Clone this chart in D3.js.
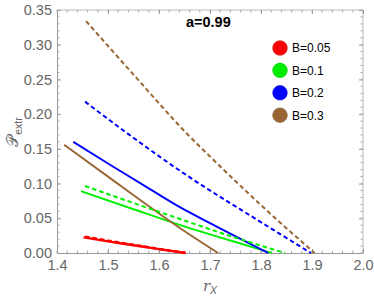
<!DOCTYPE html>
<html><head><meta charset="utf-8">
<script src="https://cdn.jsdelivr.net/npm/d3@7"></script>
<style>body{margin:0;background:#fff;} svg{display:block;font-family:"Liberation Sans",Arial,sans-serif;}</style>
</head><body><svg id="c" width="374" height="297"></svg>
<script>
const title = "a=0.99";
const legendLabels = ["B=0.05","B=0.1","B=0.2","B=0.3"];
const colors = ["#ff0000","#00f000","#0000ff","#996633"];
const xTicks = [1.4,1.5,1.6,1.7,1.8,1.9,2.0];
const yTicks = [0.00,0.05,0.10,0.15,0.20,0.25,0.30,0.35];

// solid curves [r, value]
const solidB005 = [[1.452,0.0226],[1.5,0.0168],[1.55,0.0112],[1.6,0.0056],[1.651,0.0]];
const solidB01  = [[1.447,0.089],[1.55,0.063],[1.651,0.038],[1.74,0.018],[1.821,0.0]];
const solidB02  = [[1.432,0.160],[1.5,0.129],[1.6,0.084],[1.641,0.066],[1.7,0.043],[1.814,0.0]];
const solidB03  = [[1.414,0.156],[1.5,0.110],[1.6,0.057],[1.651,0.031],[1.716,0.0]];
// dashed curves
const dashB005 = [[1.455,0.0235],[1.5,0.0178],[1.55,0.0118],[1.6,0.0060],[1.655,0.0]];
const dashB01  = [[1.455,0.0965],[1.55,0.072],[1.651,0.0465],[1.75,0.022],[1.847,0.0]];
const dashB02  = [[1.455,0.218],[1.533,0.175],[1.648,0.115],[1.792,0.048],[1.898,0.0]];
const dashB03  = [[1.457,0.334],[1.55,0.257],[1.654,0.1725],[1.7,0.139],[1.8,0.069],[1.905,0.0]];

const solids = [solidB005, solidB01, solidB02, solidB03];
const dashes = [dashB005, dashB01, dashB02, dashB03];

const svg = d3.select("#c");
const x = d3.scaleLinear().domain([1.4,2.0]).range([57,363]);
const y = d3.scaleLinear().domain([0,0.35]).range([253,10]);

// frame
const g = svg.append("g");
g.append("line").attr("x1",57).attr("x2",363).attr("y1",10).attr("y2",10).attr("stroke","#bbb");
g.append("line").attr("x1",363).attr("x2",363).attr("y1",10).attr("y2",253).attr("stroke","#bbb");

const minorX = d3.range(1.4,2.0001,0.02);
const minorY = d3.range(0,0.35001,0.01);

// bottom axis
const xb = d3.axisBottom(x).tickValues(xTicks).tickFormat(d3.format(".1f")).tickSizeInner(-4).tickSizeOuter(0).tickPadding(7);
const gx = svg.append("g").attr("transform","translate(0,253)").call(xb);
// top axis ticks
const xt = d3.axisTop(x).tickValues(xTicks).tickFormat("").tickSizeInner(-4).tickSizeOuter(0);
const gxt = svg.append("g").attr("transform","translate(0,10)").call(xt);
gxt.select(".domain").remove();
// left axis
const yl = d3.axisLeft(y).tickValues(yTicks).tickFormat(d3.format(".2f")).tickSizeInner(-4).tickSizeOuter(0).tickPadding(5);
const gy = svg.append("g").attr("transform","translate(57,0)").call(yl);
const yr = d3.axisRight(y).tickValues(yTicks).tickFormat("").tickSizeInner(-4).tickSizeOuter(0);
const gyr = svg.append("g").attr("transform","translate(363,0)").call(yr);
gyr.select(".domain").remove();

[gx,gy].forEach(a=>{a.select(".domain").attr("stroke","#999");});
[gx,gy,gxt,gyr].forEach(a=>{
  a.selectAll(".tick line").attr("stroke","#999");
  a.selectAll(".tick text").attr("fill","#666").attr("font-size","14.5px").attr("font-family","'Liberation Sans',Arial,sans-serif");
});

// minor ticks
const mg = svg.append("g").attr("stroke","#aaa");
minorX.forEach(v=>{
  mg.append("line").attr("x1",x(v)).attr("x2",x(v)).attr("y1",253).attr("y2",250.5);
  mg.append("line").attr("x1",x(v)).attr("x2",x(v)).attr("y1",10).attr("y2",12.5);
});
minorY.forEach(v=>{
  mg.append("line").attr("y1",y(v)).attr("y2",y(v)).attr("x1",57).attr("x2",59.5);
  mg.append("line").attr("y1",y(v)).attr("y2",y(v)).attr("x1",363).attr("x2",360.5);
});

const line = d3.line().x(d=>x(d[0])).y(d=>y(d[1])).curve(d3.curveMonotoneX);
const plot = svg.append("g");
solids.forEach((s,i)=>{
  plot.append("path").attr("d",line(s)).attr("fill","none").attr("stroke",colors[i]).attr("stroke-width", i===0?2.4:1.9);
});
dashes.forEach((s,i)=>{
  plot.append("path").attr("d",line(s)).attr("fill","none").attr("stroke",colors[i]).attr("stroke-width", i===0?2.4:2.0).attr("stroke-dasharray","4.5,3");
});

// title
svg.append("text").attr("x",186).attr("y",27).attr("font-weight","bold").attr("font-size","14.5px").attr("fill","#000").text(title);

// legend
const leg = svg.append("g");
legendLabels.forEach((t,i)=>{
  const cy = 48 + i*22.4;
  leg.append("circle").attr("cx",280).attr("cy",cy).attr("r",7.3).attr("fill",colors[i]).attr("stroke",d3.color(colors[i]).darker(0.6)).attr("stroke-width",0.6);
  leg.append("text").attr("x",292).attr("y",cy+4.3).attr("font-size","12px").attr("fill","#000").text(t);
});

// axis labels
svg.append("text").attr("x",210).attr("y",291).attr("text-anchor","middle").attr("font-size","15px").attr("fill","#666").attr("font-family","'DejaVu Serif',serif").attr("font-style","italic")
  .html('r<tspan font-size="10.5px" dy="3" font-style="italic" font-family="\'Liberation Sans\',Arial,sans-serif">X</tspan>');
svg.append("text").attr("transform","translate(18,132) rotate(-90)").attr("text-anchor","middle").attr("font-size","16px").attr("fill","#666")
  .html('<tspan font-family="\'DejaVu Sans\',\'DejaVu Serif\',serif">𝒫</tspan><tspan font-size="10.5px" dy="4">extr</tspan>');
</script></body></html>
